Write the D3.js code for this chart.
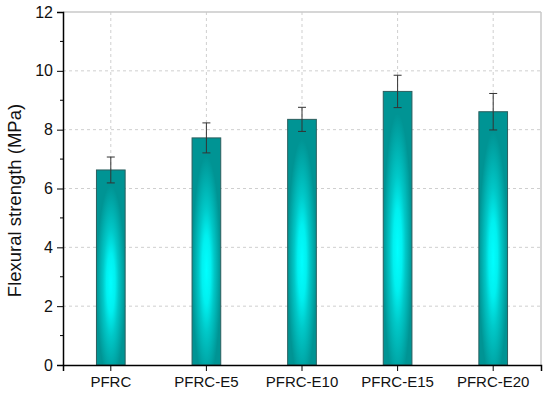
<!DOCTYPE html>
<html>
<head>
  <meta charset="utf-8">
  <style>
    html, body { margin: 0; overflow: hidden; background: #fff; }
    svg { display: block; }
    text { font-family: "Liberation Sans", Arial, sans-serif; fill: #111; }
  </style>
  <script src="https://d3js.org/d3.v7.min.js"></script>
</head>
<body>
  <svg id="svg" width="550" height="394"></svg>
  <script>
    var categories = ["PFRC", "PFRC-E5", "PFRC-E10", "PFRC-E15", "PFRC-E20"];
    var strength = [6.63, 7.72, 8.35, 9.30, 8.61];
    var errors = [0.44, 0.51, 0.41, 0.55, 0.62];
    var yTicks = [0, 2, 4, 6, 8, 10, 12];
    var yMinor = [1, 3, 5, 7, 9, 11];

    var margin = {top: 12, right: 9, bottom: 29, left: 63};
    var width = 550 - margin.left - margin.right;
    var height = 394 - margin.top - margin.bottom;

    var svg = d3.select("#svg");

    var defs = svg.append("defs");
    var grad = defs.append("radialGradient")
      .attr("id", "barGrad")
      .attr("cx", 0.5).attr("cy", 0.58)
      .attr("r", 0.5);
    grad.append("stop").attr("offset", "0%").attr("stop-color", "#00ffff");
    grad.append("stop").attr("offset", "30%").attr("stop-color", "#00f0f0");
    grad.append("stop").attr("offset", "55%").attr("stop-color", "#00c8c8");
    grad.append("stop").attr("offset", "80%").attr("stop-color", "#00abab");
    grad.append("stop").attr("offset", "100%").attr("stop-color", "#009494");

    var x = d3.scaleBand().domain(categories).range([0, width]).padding(0);
    var y = d3.scaleLinear().domain([0, 12]).range([height, 0]);

    var g = svg.append("g")
      .attr("transform", "translate(" + margin.left + "," + margin.top + ")");

    // grid
    g.append("g").selectAll("line").data(yTicks.filter(function(d){ return d > 0 && d < 12; }))
      .enter().append("line")
      .attr("x1", 0).attr("x2", width)
      .attr("y1", function(d){ return y(d); }).attr("y2", function(d){ return y(d); })
      .style("stroke", "#cfcfcf").style("stroke-dasharray", "3,3");
    g.append("g").selectAll("line").data(categories)
      .enter().append("line")
      .attr("x1", function(d){ return x(d) + x.bandwidth()/2; })
      .attr("x2", function(d){ return x(d) + x.bandwidth()/2; })
      .attr("y1", 0).attr("y2", height)
      .style("stroke", "#cfcfcf").style("stroke-dasharray", "3,3");

    // frame top/right
    g.append("line").attr("x1", 0).attr("x2", width).attr("y1", 0).attr("y2", 0)
      .style("stroke", "#c8c8c8").style("stroke-width", 1.5);
    g.append("line").attr("x1", width).attr("x2", width).attr("y1", 0).attr("y2", height)
      .style("stroke", "#c8c8c8").style("stroke-width", 1.5);

    // bars
    var bw = x.bandwidth() * 0.3;
    g.append("g").selectAll("rect").data(categories)
      .enter().append("rect")
      .attr("x", function(d){ return x(d) + x.bandwidth()/2 - bw/2; })
      .attr("y", function(d, i){ return y(strength[i]); })
      .attr("width", bw)
      .attr("height", function(d, i){ return height - y(strength[i]); })
      .style("fill", "url(#barGrad)")
      .style("stroke", "#2c5e5e").style("stroke-width", 1);

    // error bars
    var eb = g.append("g").selectAll("g").data(categories).enter().append("g")
      .style("stroke", "#333").style("stroke-width", 1);
    eb.append("line")
      .attr("x1", function(d){ return x(d) + x.bandwidth()/2; })
      .attr("x2", function(d){ return x(d) + x.bandwidth()/2; })
      .attr("y1", function(d, i){ return y(strength[i] + errors[i]); })
      .attr("y2", function(d, i){ return y(strength[i] - errors[i]); });
    eb.selectAll(".cap").data(function(d){
        var i = categories.indexOf(d);
        return [[d, strength[i] + errors[i]], [d, strength[i] - errors[i]]];
      })
      .enter().append("line").attr("class", "cap")
      .attr("x1", function(d){ return x(d[0]) + x.bandwidth()/2 - 4; })
      .attr("x2", function(d){ return x(d[0]) + x.bandwidth()/2 + 4; })
      .attr("y1", function(d){ return y(d[1]); })
      .attr("y2", function(d){ return y(d[1]); });

    // axes
    var yAxis = g.append("g")
      .call(d3.axisLeft(y).tickValues(yTicks).tickSize(6).tickPadding(4).tickFormat(d3.format("d")));
    yAxis.selectAll("text").style("font-size", "16px");
    g.append("g").selectAll("line").data(yMinor).enter().append("line")
      .attr("x1", -3).attr("x2", 0)
      .attr("y1", function(d){ return y(d); }).attr("y2", function(d){ return y(d); })
      .style("stroke", "#000");

    var xAxis = g.append("g")
      .attr("transform", "translate(0," + height + ")")
      .call(d3.axisBottom(x).tickSize(6).tickPadding(5));
    xAxis.selectAll("text").style("font-size", "15px");

    g.selectAll(".domain").style("stroke", "#000").style("stroke-width", 1.5);
    g.selectAll(".tick line").style("stroke", "#000");

    svg.append("text")
      .attr("transform", "translate(21," + (margin.top + height/2 + 12) + ") rotate(-90)")
      .attr("text-anchor", "middle")
      .style("font-size", "18.5px")
      .text("Flexural strength (MPa)");
  </script>
</body>
</html>
